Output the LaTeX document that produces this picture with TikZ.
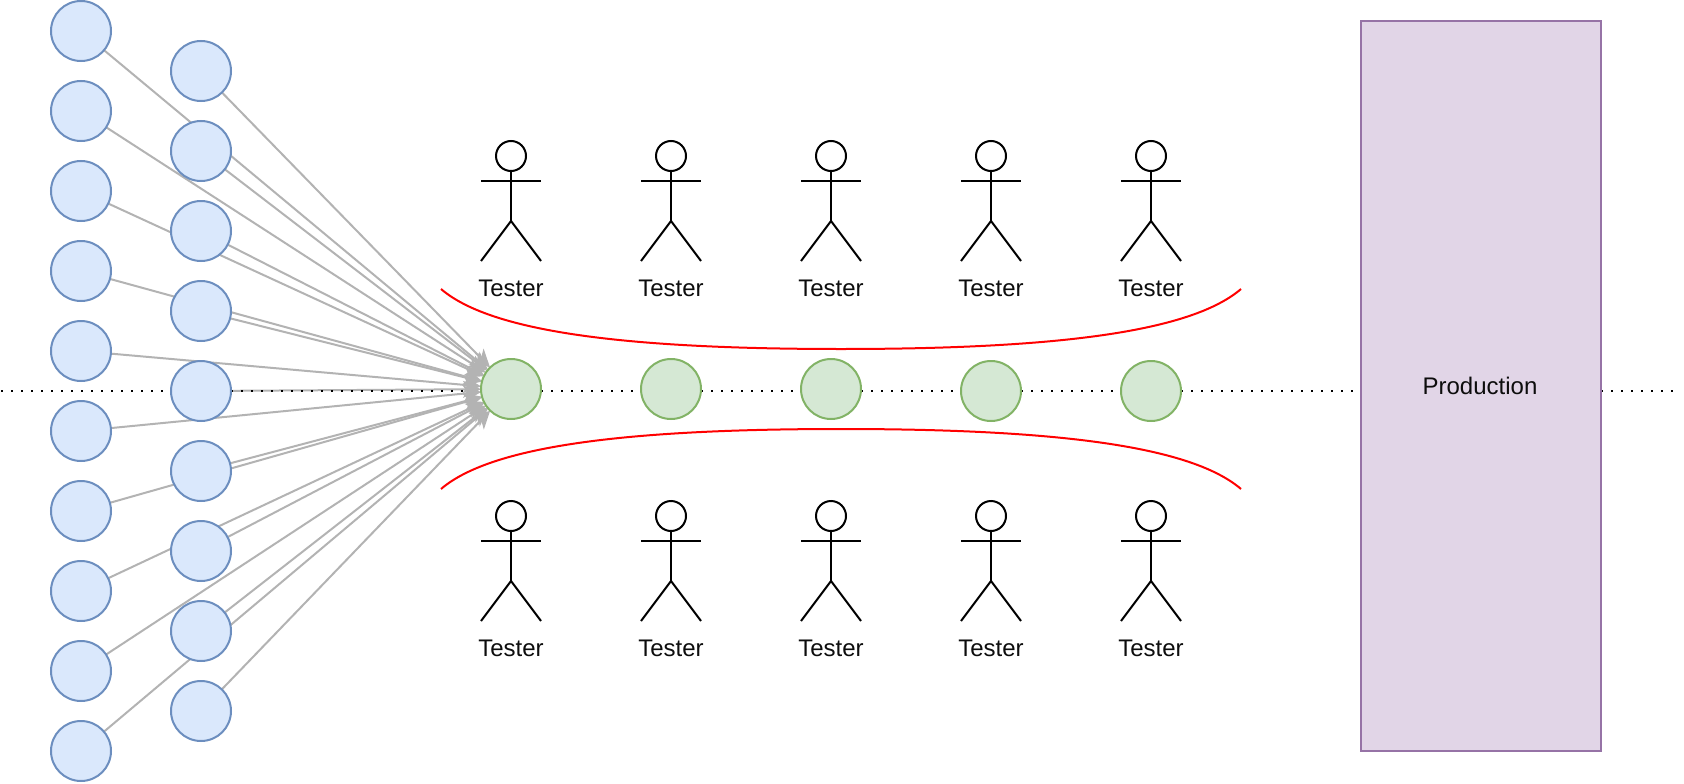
\documentclass[tikz,border=0pt]{standalone}
\usepackage{fontspec}
\setmainfont{Liberation Sans}
\usetikzlibrary{arrows.meta, backgrounds}

\definecolor{bluefill}{HTML}{DAE8FC}
\definecolor{blueline}{HTML}{6C8EBF}
\definecolor{greenfill}{HTML}{D5E8D4}
\definecolor{greenline}{HTML}{82B366}
\definecolor{prodfill}{HTML}{E1D5E7}
\definecolor{prodline}{HTML}{9673A6}
\definecolor{feedline}{HTML}{B3B3B3}

\tikzset{
    label text/.style={font=\fontsize{24}{28}\selectfont, text=black!95},
    tester/.pic={
        \draw[line width=2pt] (0,-25) circle (15);
        \draw[line width=2pt] (0,-10) -- (0,40);
        \draw[line width=2pt] (-30,0) -- (30,0);
        \draw[line width=2pt] (-30,80) -- (0,40) -- (30,80);
    }
}

\begin{document}
\begin{tikzpicture}[
            x=1pt, y=-1pt,
            every node/.style={inner sep=0pt, outer sep=0pt},
            idea/.style={circle, draw=blueline, fill=bluefill, line width=2pt, minimum size=60pt}, % Incoming ideas
            build/.style={circle, draw=greenline, fill=greenfill, line width=2pt, minimum size=60pt}, % Stages in the pipe
            feed/.style={draw=feedline, line width=2pt, -{Stealth[length=18pt, width=17pt, inset=5pt]}},
            flow/.style={draw=black, line width=2pt, dash pattern=on 2pt off 8pt},
            wall/.style={draw=red, line width=2pt}
            ]
    \useasboundingbox (0,0) rectangle (1684,784);

    % Two columns of ideas on the left
    \foreach \i in {1,...,10}
        \node[idea] (a\i) at (81,{31+80*(\i-1)}) {};
    \foreach \i in {1,...,9}
        \node[idea] (b\i) at (201,{71+80*(\i-1)}) {};

    % Pipe stages with a tester above and below each of them
    \foreach \i/\x/\y in {1/511/389, 2/671/389, 3/831/389, 4/991/391, 5/1151/391} {
        \node[build] (g\i) at (\x,\y) {};
        \pic at (\x,181) {tester};
        \pic at (\x,541) {tester};
        \node[label text] (tu\i) at (\x,288) {Tester};
        \node[label text] (tl\i) at (\x,648) {Tester};
    }

    \node[draw=prodline, fill=prodfill, line width=2pt, minimum width=240pt, minimum height=730pt,
          label text] (prod) at (1481,386) {\hspace*{-2pt}Production};

    \coordinate (flowstart) at (1,391);
    \coordinate (flowstop) at (463,391);
    \coordinate (flowback) at (541,391);
    \coordinate (flowend) at (1673,391);

    % Everything that runs behind the circles
    \begin{scope}[on background layer]
        \foreach \i in {1,...,10}
            \draw[feed] (a\i) -- (g1);
        \foreach \i in {1,...,9}
            \draw[feed] (b\i) -- (g1);
        \draw[flow] (flowstart) -- (flowstop);
        \draw[flow] (flowback) -- (flowend);
    \end{scope}

    % Walls of the pipe
    \coordinate (wallua) at (441,289);
    \coordinate (wallub) at (1241,289);
    \coordinate (wallum) at (841,349);
    \coordinate (wallla) at (441,489);
    \coordinate (walllb) at (1241,489);
    \coordinate (walllm) at (841,429);
    \draw[wall] (wallua) .. controls (490,331) and (620,349) .. (wallum)
        .. controls (1062,349) and (1192,331) .. (wallub);
    \draw[wall] (wallla) .. controls (490,447) and (620,429) .. (walllm)
        .. controls (1062,429) and (1192,447) .. (walllb);

\end{tikzpicture}
\end{document}
